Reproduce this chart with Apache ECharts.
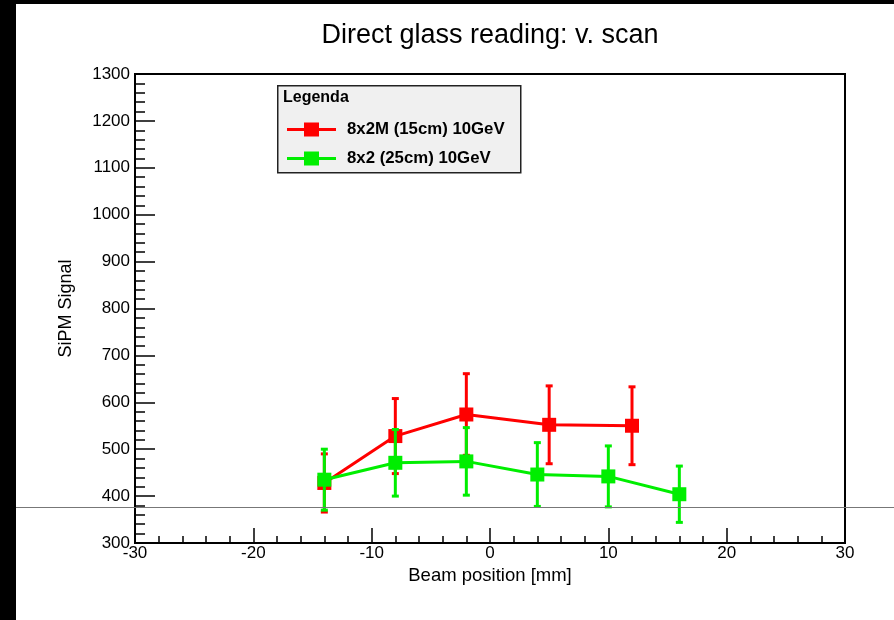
<!DOCTYPE html>
<html>
<head>
<meta charset="utf-8">
<script src="https://cdn.jsdelivr.net/npm/echarts@6/dist/echarts.min.js"></script>
<style>
  html, body { margin: 0; padding: 0; background: #fff; }
  #chart { width: 894px; height: 620px; }
</style>
</head>
<body>
<div id="chart"></div>
<script>
// Beam scan: SiPM signal vs beam position, two glass configurations
const seriesNames = ['8x2M (15cm) 10GeV', '8x2 (25cm) 10GeV'];

const redX   = [-14, -8, -2, 5, 12];
const redY   = [428, 528, 574, 552, 550];
const redErr = [62, 80, 87, 83, 83];

const greenX   = [-14, -8, -2, 4, 10, 16];
const greenY   = [435, 471, 474, 446, 442, 404];
const greenErr = [65, 71, 72, 68, 65, 60];

const xTicks = [-30, -20, -10, 0, 10, 20, 30];
const yTicks = [300, 400, 500, 600, 700, 800, 900, 1000, 1100, 1200, 1300];

const RED = '#ff0000';
const GREEN = '#00ee00';
const FONT = '"Liberation Sans", Arial, Helvetica, sans-serif';
// legend key: a thick line with a square marker in the middle
const KEY_ICON = 'path://M0,5.5L17,5.5L17,0L32,0L32,5.5L49,5.5L49,8.5L32,8.5L32,14L17,14L17,8.5L0,8.5Z';

function points(xs, ys) {
  return xs.map((x, i) => [x, ys[i]]);
}
function errRows(xs, ys, es) {
  return xs.map((x, i) => [x, ys[i] - es[i], ys[i] + es[i]]);
}

// vertical error bar with short caps
function errorBarRenderer(color) {
  return function (params, api) {
    const lo = api.coord([api.value(0), api.value(1)]);
    const hi = api.coord([api.value(0), api.value(2)]);
    const cap = 3.5;
    const style = { stroke: color, lineWidth: 3 };
    return {
      type: 'group',
      children: [
        { type: 'line', shape: { x1: lo[0], y1: lo[1], x2: hi[0], y2: hi[1] }, style },
        { type: 'line', shape: { x1: lo[0] - cap, y1: lo[1], x2: lo[0] + cap, y2: lo[1] }, style },
        { type: 'line', shape: { x1: hi[0] - cap, y1: hi[1], x2: hi[0] + cap, y2: hi[1] }, style }
      ]
    };
  };
}

const chart = echarts.init(document.getElementById('chart'), null, { renderer: 'canvas' });

chart.setOption({
  backgroundColor: '#ffffff',
  animation: false,
  title: {
    text: 'Direct glass reading: v. scan',
    left: 485,
    top: 17,
    textAlign: 'center',
    textStyle: { fontFamily: FONT, fontSize: 27, fontWeight: 'normal', color: '#000' }
  },
  grid: {
    left: 135, right: 49, top: 74, bottom: 77,
    show: true, borderColor: '#000', borderWidth: 2, backgroundColor: 'transparent'
  },
  legend: {
    orient: 'vertical',
    left: 287,
    top: 121,
    padding: 0,
    itemWidth: 49,
    itemHeight: 14,
    itemGap: 12,
    icon: KEY_ICON,
    data: seriesNames,
    textStyle: {
      fontFamily: FONT, fontSize: 16.8, fontWeight: 'bold', color: '#000',
      lineHeight: 14, padding: [0, 0, 0, 6]
    }
  },
  xAxis: {
    type: 'value',
    min: xTicks[0],
    max: xTicks[xTicks.length - 1],
    interval: 10,
    name: 'Beam position [mm]',
    nameLocation: 'middle',
    nameGap: 23,
    nameTextStyle: { fontFamily: FONT, fontSize: 18.5, color: '#000' },
    axisLine: { show: true, onZero: false, lineStyle: { color: '#000', width: 2 } },
    axisTick: { show: true, inside: true, length: 15, lineStyle: { color: '#000', width: 1.5 } },
    minorTick: { show: true, splitNumber: 5, length: 7, lineStyle: { color: '#000', width: 1.5 } },
    splitLine: { show: false },
    axisLabel: { fontFamily: FONT, fontSize: 17, color: '#000', margin: 2 }
  },
  yAxis: {
    type: 'value',
    min: yTicks[0],
    max: yTicks[yTicks.length - 1],
    interval: 100,
    name: 'SiPM Signal',
    nameLocation: 'middle',
    nameGap: 60,
    nameTextStyle: { fontFamily: FONT, fontSize: 18, color: '#000' },
    axisLine: { show: true, onZero: false, lineStyle: { color: '#000', width: 2 } },
    axisTick: { show: true, inside: true, length: 20, lineStyle: { color: '#000', width: 1.5 } },
    minorTick: { show: true, splitNumber: 5, length: 10, lineStyle: { color: '#000', width: 1.5 } },
    splitLine: { show: false },
    axisLabel: {
      fontFamily: FONT, fontSize: 17, color: '#000', margin: 5,
      formatter: (v) => String(v)
    }
  },
  series: [
    {
      name: seriesNames[0] + ' err',
      type: 'custom',
      renderItem: errorBarRenderer(RED),
      data: errRows(redX, redY, redErr),
      z: 2,
      silent: true
    },
    {
      name: seriesNames[0],
      type: 'line',
      data: points(redX, redY),
      symbol: 'rect',
      symbolSize: 14,
      itemStyle: { color: RED },
      lineStyle: { color: RED, width: 3 },
      z: 3
    },
    {
      name: seriesNames[1] + ' err',
      type: 'custom',
      renderItem: errorBarRenderer(GREEN),
      data: errRows(greenX, greenY, greenErr),
      z: 4,
      silent: true
    },
    {
      name: seriesNames[1],
      type: 'line',
      data: points(greenX, greenY),
      symbol: 'rect',
      symbolSize: 14,
      itemStyle: { color: GREEN },
      lineStyle: { color: GREEN, width: 3 },
      z: 5
    }
  ],
  graphic: [
    // legend frame and heading
    {
      type: 'rect', left: 277, top: 85, z: 0,
      shape: { width: 243, height: 87 },
      style: { fill: '#f0f0f0', stroke: '#222', lineWidth: 1.5 }
    },
    {
      type: 'text', left: 283, top: 90, z: 1,
      style: { text: 'Legenda', font: 'bold 16px ' + FONT, fill: '#000' }
    },
    // frame strips and rule across the canvas
    { type: 'rect', left: 0, top: 0, z: 100, shape: { width: 16, height: 620 }, style: { fill: '#000' } },
    { type: 'rect', left: 0, top: 0, z: 100, shape: { width: 894, height: 4 }, style: { fill: '#000' } },
    {
      type: 'line', z: 100,
      shape: { x1: 16, y1: 507.5, x2: 894, y2: 507.5 },
      style: { stroke: '#777', lineWidth: 1 }
    }
  ]
});
</script>
</body>
</html>
